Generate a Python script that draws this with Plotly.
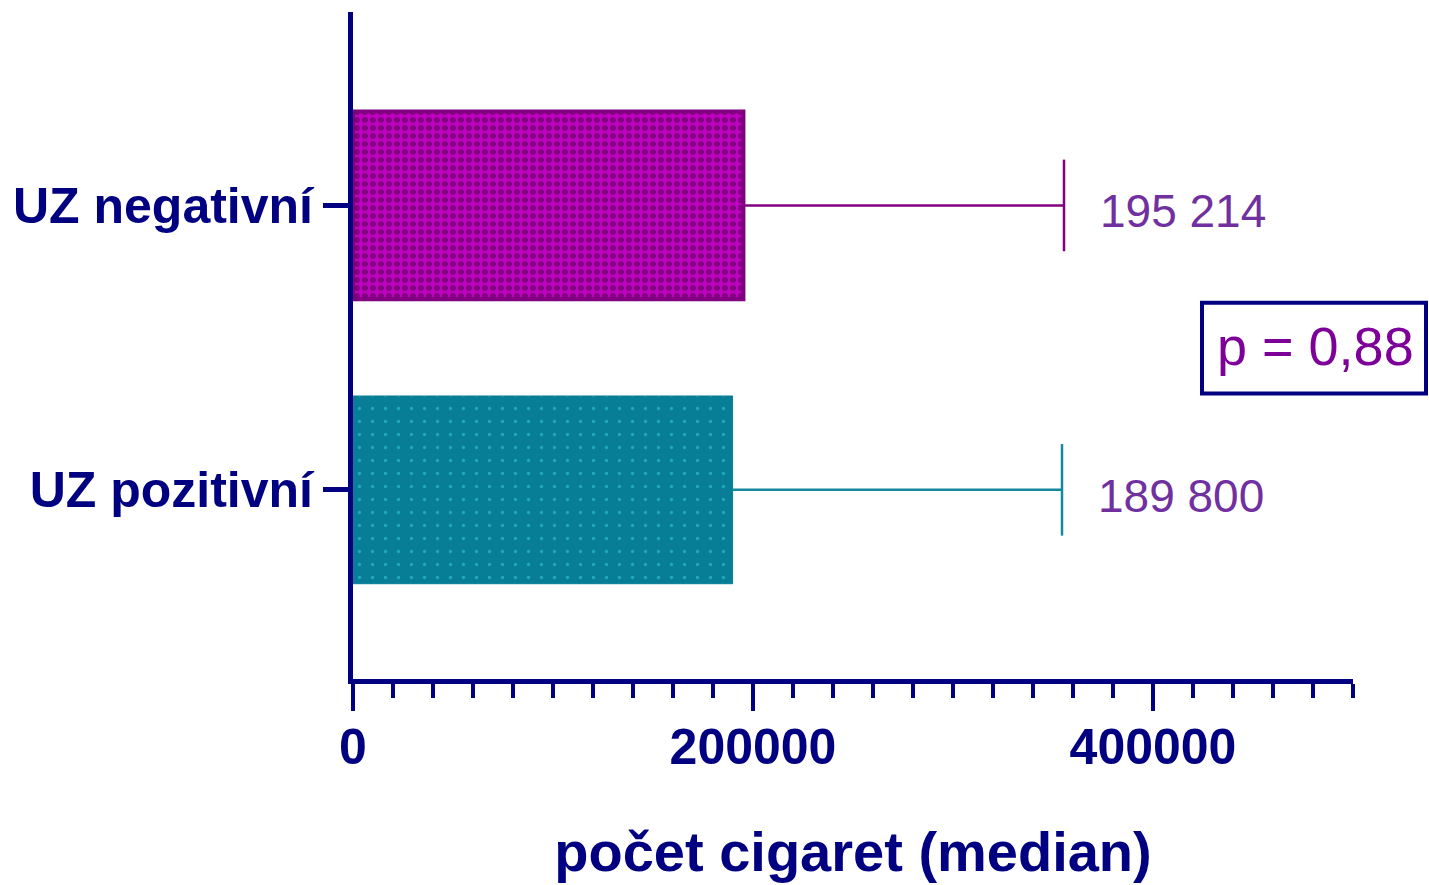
import plotly.graph_objects as go

categories = ["UZ pozitivní", "UZ negativní"]
medians = [189800, 195214]
upper = [354500, 355500]
value_labels = ["189 800", "195 214"]
x_tickvals = [0, 200000, 400000]
x_ticktext = ["0", "200000", "400000"]
p_text = "p = 0,88"

NAVY = "#000080"
FONT = "Liberation Sans, Arial, sans-serif"
CAP = 0.161  # half height of error-bar cap in category units

fig = go.Figure()

bar_styles = [
    dict(color="#077E96", line=dict(color="#077E96", width=1),
         pattern=dict(shape=".", bgcolor="#077E96", fgcolor="#22A8BE", size=13, solidity=0.05, fillmode="replace"),
         err="#14899B"),
    dict(color="#800080", line=dict(color="#800080", width=4),
         pattern=dict(shape=".", bgcolor="#C000C0", fgcolor="#800080", size=8, solidity=0.42, fillmode="replace"),
         err="#800080"),
]

ypos = list(range(len(categories)))

for i, cat in enumerate(categories):
    st = bar_styles[i]
    fig.add_trace(go.Bar(
        x=[medians[i]], y=[ypos[i]], orientation="h", width=0.66,
        marker=dict(color=st["color"], line=st["line"], pattern=st["pattern"]),
        showlegend=False, hoverinfo="skip",
    ))
    fig.add_trace(go.Scatter(
        x=[medians[i], upper[i], None, upper[i], upper[i]],
        y=[ypos[i], ypos[i], None, ypos[i] - CAP, ypos[i] + CAP],
        mode="lines", line=dict(color=st["err"], width=2.5),
        showlegend=False, hoverinfo="skip",
    ))
    fig.add_annotation(x=upper[i], y=ypos[i], text=value_labels[i], xanchor="left",
                       xshift=34, yshift=-6, showarrow=False,
                       font=dict(family=FONT, size=46, color="#7030A0"))

fig.add_shape(type="rect", xref="paper", yref="paper", x0=0.849, x1=1.073, y0=0.428, y1=0.564,
              line=dict(color=NAVY, width=4), fillcolor="rgba(0,0,0,0)")
fig.add_annotation(xref="paper", yref="paper", x=0.962, y=0.499, text=p_text, showarrow=False,
                   xanchor="center", yanchor="middle",
                   font=dict(family=FONT, size=54, color="#7D0099"))

fig.update_layout(
    width=1429, height=885,
    margin=dict(l=353, r=76, t=12, b=203),
    plot_bgcolor="white", paper_bgcolor="white",
    barmode="overlay",
    font=dict(family=FONT, color=NAVY),
)
fig.update_xaxes(
    range=[0, 500000], tickvals=x_tickvals, ticktext=x_ticktext,
    showgrid=False, zeroline=False, showline=True, linecolor=NAVY, linewidth=5,
    ticks="outside", ticklen=27, tickwidth=4, tickcolor=NAVY,
    tickfont=dict(family=FONT, size=50, color=NAVY, weight="bold"),
    ticklabelstandoff=-7,
    minor=dict(dtick=20000, tick0=0, ticks="outside", ticklen=14, tickwidth=4, tickcolor=NAVY, showgrid=False),
    title=dict(text="počet cigaret (median)", font=dict(family=FONT, size=56, color=NAVY, weight="bold"), standoff=59),
)
fig.update_yaxes(
    range=[-0.665, 1.68], tickvals=ypos, ticktext=categories,
    showgrid=False, zeroline=False, showline=True, linecolor=NAVY, linewidth=5,
    ticks="outside", ticklen=25, tickwidth=5, tickcolor=NAVY,
    tickfont=dict(family=FONT, size=50, color=NAVY, weight="bold"),
)

fig.write_html("out.html", config={"displayModeBar": False},
               post_script="document.body.style.margin='0';document.body.style.overflow='hidden';")
